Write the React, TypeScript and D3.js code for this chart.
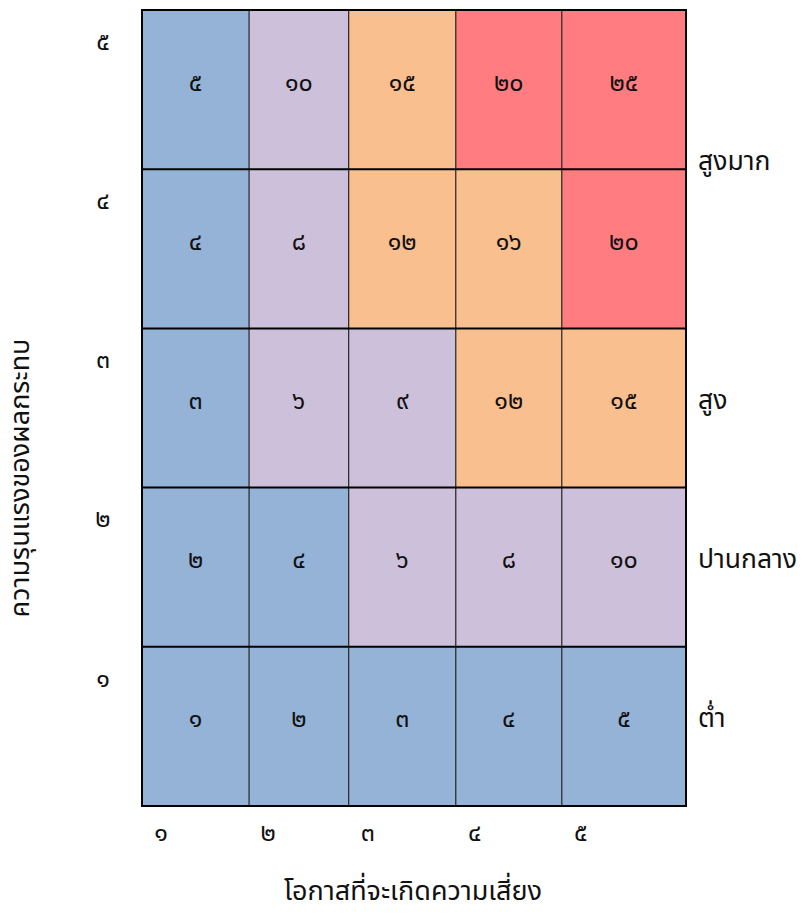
import React from "react";
import * as d3 from "d3";

const likelihood = [1, 2, 3, 4, 5];
const impact = [1, 2, 3, 4, 5];
const xEdges = [0, 1.0, 1.93, 2.93, 3.92, 5.08];
const thaiDigits = ["๐", "๑", "๒", "๓", "๔", "๕", "๖", "๗", "๘", "๙"];
// level per cell, rows listed from impact 1 to 5, columns likelihood 1..5
const levelRows = [
  ["low", "low", "low", "low", "low"],
  ["low", "low", "mid", "mid", "mid"],
  ["low", "mid", "mid", "high", "high"],
  ["low", "mid", "high", "high", "vhigh"],
  ["low", "mid", "high", "vhigh", "vhigh"],
];
const levelNames = ["low", "mid", "high", "vhigh"];
const levelColors = ["#95B3D7", "#CCC0DA", "#F9BF8F", "#FF7C80"];
const levelLabels = ["ต่ำ", "ปานกลาง", "สูง", "สูงมาก"];
const levelLabelPos = [1, 2, 3, 4.5];
const xTitle = "โอกาสที่จะเกิดความเสี่ยง";
const yTitle = "ความรุนแรงของผลกระทบ";

const toThai = (n: number) => String(n).split("").map((c) => thaiDigits[+c]).join("");

const W = 804;
const H = 914;
const FONT = "'Noto Sans Thai', 'Noto Sans', sans-serif";

export default function App() {
  const x = d3.scaleLinear().domain([0, xEdges[xEdges.length - 1]]).range([142, 686]);
  const y = d3.scaleLinear().domain([0.5, 5.5]).range([806, 10]);
  const color = d3.scaleOrdinal<string, string>().domain(levelNames).range(levelColors);
  const off = -7;

  const cells: { i: number; j: number; lvl: string }[] = [];
  impact.forEach((imp, r) =>
    likelihood.forEach((lk, c) => cells.push({ i: imp, j: c, lvl: levelRows[r][c] }))
  );

  return (
    <svg width={W} height={H} style={{ display: "block", position: "absolute", left: 0, top: 0 }} fontFamily={FONT}>
      <rect width={W} height={H} fill="#fff" />
      {cells.map((d) => (
        <rect
          key={`c${d.i}-${d.j}`}
          x={x(xEdges[d.j])}
          y={y(d.i + 0.5)}
          width={x(xEdges[d.j + 1]) - x(xEdges[d.j])}
          height={y(d.i - 0.5) - y(d.i + 0.5)}
          fill={color(d.lvl)}
        />
      ))}
      {xEdges.slice(1, -1).map((e, k) => (
        <line key={`v${k}`} x1={x(e)} x2={x(e)} y1={y(5.5)} y2={y(0.5)} stroke="#222" strokeWidth={1.2} />
      ))}
      {d3.range(1.5, 5.5, 1).map((v) => (
        <line key={`h${v}`} x1={x(0)} x2={x(xEdges[5])} y1={y(v)} y2={y(v)} stroke="#000" strokeWidth={2} />
      ))}
      <rect x={x(0)} y={y(5.5)} width={x(xEdges[5]) - x(0)} height={y(0.5) - y(5.5)} fill="none" stroke="#000" strokeWidth={2} />
      {cells.map((d) => (
        <text
          key={`t${d.i}-${d.j}`}
          x={(x(xEdges[d.j]) + x(xEdges[d.j + 1])) / 2}
          y={y(d.i) + off}
          textAnchor="middle"
          dominantBaseline="central"
          fontSize={25}
          fill="#111"
        >
          {toThai(d.i * likelihood[d.j])}
        </text>
      ))}
      {impact.map((v) => (
        <text key={`yt${v}`} x={103} y={y(v + 0.3)} textAnchor="middle" dominantBaseline="central" fontSize={25} fill="#111">
          {toThai(v)}
        </text>
      ))}
      {likelihood.map((v, k) => (
        <text key={`xt${v}`} x={x(xEdges[k]) + 19} y={833} textAnchor="middle" dominantBaseline="central" fontSize={25} fill="#111">
          {toThai(v)}
        </text>
      ))}
      {levelLabels.map((l, k) => (
        <text key={`ll${k}`} x={698} y={y(levelLabelPos[k]) + off} dominantBaseline="central" fontSize={26.5} fill="#111">
          {l}
        </text>
      ))}
      <text x={413} y={891} textAnchor="middle" dominantBaseline="central" fontSize={27} fill="#111">
        {xTitle}
      </text>
      <text
        transform={`translate(20, ${y(3) + 70}) rotate(-90)`}
        textAnchor="middle"
        dominantBaseline="central"
        fontSize={27}
        fill="#111"
      >
        {yTitle}
      </text>
    </svg>
  );
}
